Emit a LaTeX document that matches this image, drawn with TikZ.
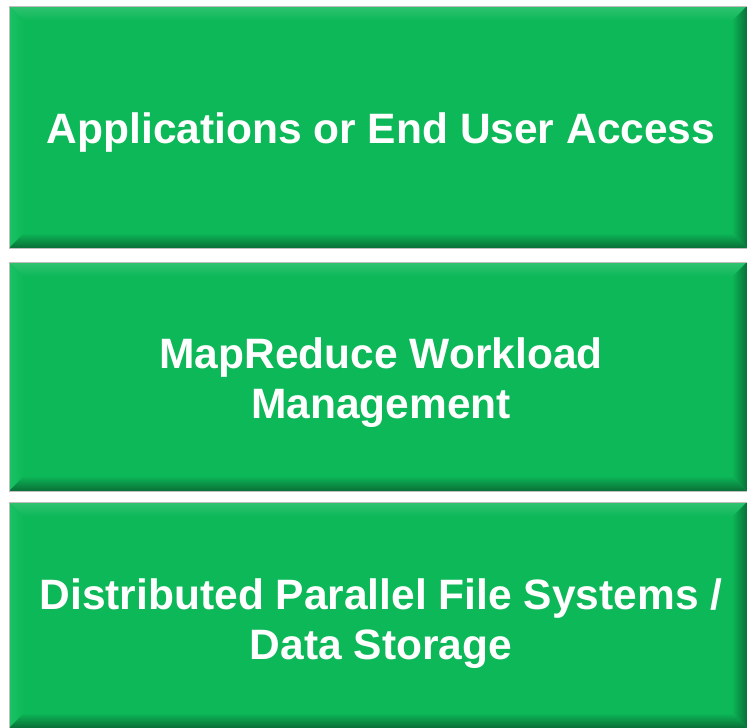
\documentclass[tikz,border=0pt]{standalone}
\usepackage{fontspec}
\setmainfont{Liberation Sans}
\definecolor{boxgreen}{RGB}{12,184,88}
\definecolor{bevlight}{RGB}{70,224,140}
\definecolor{bevdark}{RGB}{10,110,55}
\tikzset{
  x=1pt, y=-1pt,
  label/.style={text=white, font=\bfseries\fontsize{42.5}{50}\selectfont, align=center},
}
% bevelled green panel: #1,#2 top-left corner, #3,#4 bottom-right corner
\newcommand\bevpanel[4]{%
  \def\bw{15}%
  \fill[boxgreen] (#1,#2) rectangle (#3,#4);
  % top bevel
  \shade[top color=boxgreen!85!white, middle color=bevlight, bottom color=boxgreen]
    (#1,#2) -- (#3,#2) -- (#3-\bw,#2+\bw) -- (#1+\bw,#2+\bw) -- cycle;
  % left bevel
  \shade[left color=boxgreen!75!bevlight, right color=boxgreen]
    (#1,#2) -- (#1+\bw,#2+\bw) -- (#1+\bw,#4-\bw) -- (#1,#4) -- cycle;
  % bottom bevel
  \shade[top color=boxgreen, bottom color=bevdark]
    (#1,#4) -- (#1+\bw,#4-\bw) -- (#3-\bw,#4-\bw) -- (#3,#4) -- cycle;
  % right bevel
  \shade[left color=boxgreen, right color=bevdark]
    (#3,#2) -- (#3,#4) -- (#3-\bw,#4-\bw) -- (#3-\bw,#2+\bw) -- cycle;
  \draw[black!25, line width=0.8pt] (#1,#2) rectangle (#3,#4);
}
\begin{document}
\begin{tikzpicture}
\useasboundingbox (0,0) rectangle (747,728);
\fill[white] (0,0) rectangle (747,728);

\bevpanel{9}{6}{747}{248}
\bevpanel{9}{262}{747}{491}
\bevpanel{9}{502}{747}{728}

\node[label] (apps) at (381,133) {Applications or End User Access};
\node[label] (mapred) at (381,383) {MapReduce Workload\\Management};
\node[label] (dfs) at (381,624) {Distributed Parallel File Systems /\\Data Storage};
\end{tikzpicture}
\end{document}
